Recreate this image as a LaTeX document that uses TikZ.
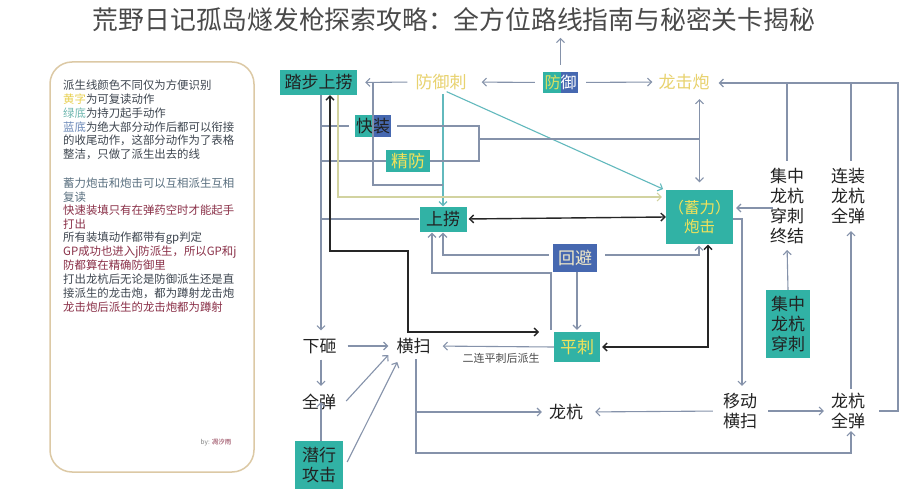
\documentclass[tikz,border=0pt]{standalone}
\usepackage{fontspec}
\setmainfont{Noto Sans CJK SC}
\usetikzlibrary{arrows.meta}
\definecolor{tealc}{HTML}{31B2A5}
\definecolor{bluec}{HTML}{4668B0}
\definecolor{ytxt}{HTML}{E8D26E}
\definecolor{ybox}{HTML}{F2E25A}
\definecolor{cream}{HTML}{F2EAC8}
\definecolor{txtc}{HTML}{222222}
\definecolor{gline}{HTML}{8592AA}
\definecolor{tline}{HTML}{62B9BD}
\definecolor{yline}{HTML}{D2D3A0}
\definecolor{titlec}{HTML}{4A4A4A}
\definecolor{boxc}{HTML}{DCC9A5}
\definecolor{notec}{HTML}{3E4650}
\definecolor{noteteal}{HTML}{5A7080}
\definecolor{maroon}{HTML}{8A3048}
\definecolor{nyel}{HTML}{E8D050}
\definecolor{ngrn}{HTML}{70B8B0}
\definecolor{nblu}{HTML}{6A88B8}
\definecolor{fyl}{HTML}{DCE060}
\begin{document}
\begin{tikzpicture}[x=1pt,y=-1pt,
  txt/.style={inner sep=0pt, align=center, font=\fontsize{17}{20}\selectfont, text=txtc},
  yt/.style={txt, text=ytxt},
  box/.style={txt, fill=tealc},
  sbox/.style={txt, fill=tealc, path picture={
      \fill[tealc] (path picture bounding box.south west) rectangle (path picture bounding box.north);
      \fill[bluec] (path picture bounding box.south) rectangle (path picture bounding box.north east);}},
  note/.style={anchor=west, inner sep=0pt, font=\fontsize{11.4}{13.75}\selectfont, text=notec},
  gl/.style={draw=gline, line width=1.1pt},
  bl/.style={draw=black!85, line width=1.4pt},
  tl/.style={draw=tline, line width=1.1pt},
  yl/.style={draw=yline, line width=1.1pt},
  arr/.style={-{Straight Barb[length=4pt,width=8pt]}},
  arrs/.style={{Straight Barb[length=4pt,width=8pt]}-{Straight Barb[length=4pt,width=8pt]}}
]
\useasboundingbox (0,0) rectangle (908,500);
\fill[white] (0,0) rectangle (908,500);

% left note box
\draw[draw=boxc, line width=1.5pt, rounded corners=22pt] (50,62) rectangle (254,472);
\node[note] (l1) at (63,85) {派生线颜色不同仅为方便识别};
\node[note] (l2) at (63,98.9) {\textcolor{nyel}{黄字}为可复读动作};
\node[note] (l3) at (63,112.8) {\textcolor{ngrn}{绿底}为持刀起手动作};
\node[note] (l4) at (63,126.7) {\textcolor{nblu}{蓝底}为绝大部分动作后都可以衔接};
\node[note] (l5) at (63,140.6) {的收尾动作，这部分动作为了表格};
\node[note] (l6) at (63,154.5) {整洁，只做了派生出去的线};
\node[note, text=noteteal] (l7) at (63,183) {蓄力炮击和炮击可以互相派生互相};
\node[note, text=noteteal] (l8) at (63,196.75) {复读};
\node[note, text=maroon] (l9) at (63,210.5) {快速装填只有在弹药空时才能起手};
\node[note, text=maroon] (l10) at (63,224.25) {打出};
\node[note] (l11) at (63,238) {所有装填动作都带有gp判定};
\node[note, text=maroon] (l12) at (63,251.75) {GP成功也进入j防派生，所以GP和j};
\node[note, text=maroon] (l13) at (63,265.5) {防都算在精确防御里};
\node[note] (l14) at (63,279.25) {打出龙杭后无论是防御派生还是直};
\node[note] (l15) at (63,293) {接派生的龙击炮，都为蹲射龙击炮};
\node[note, text=maroon] (l16) at (63,306.75) {龙击炮后派生的龙击炮都为蹲射};
\node[inner sep=0pt, font=\fontsize{6.5}{7}\selectfont, text=gray] (by) at (216,443) {by: \textcolor{maroon}{凋汐雨}};

% helper coordinates
\coordinate (tr) at (321,0);
\coordinate (j1) at (373,185);
\coordinate (bx) at (330,251);
\coordinate (by2) at (408,251);
\coordinate (yx) at (338,197);
\coordinate (m) at (479,139);
\coordinate (h1) at (443,255);
\coordinate (h2) at (699,255);
\coordinate (p1) at (551,273);
\coordinate (p2) at (432,273);
\coordinate (v1) at (416,412);
\coordinate (v2) at (416,453);
\coordinate (rx) at (851,0);
\coordinate (c1) at (742,219);
\coordinate (tr1) at (898,83);
\coordinate (bp) at (539,332);
\coordinate (k1) at (708,347);

% nodes
\node[box, minimum width=77pt, minimum height=25pt] (tbsl) at (318.5,82.5) {踏步上捞};
\node[yt] (fyc) at (441,82) {防御刺};
\node[sbox, minimum width=35pt, minimum height=21pt, font=\fontsize{16}{18}\selectfont] (fy) at (560.5,82.5) {\textcolor{fyl}{防}\textcolor{white}{御}};
\node[yt] (ljp) at (684,82) {龙击炮};
\node[sbox, minimum width=36pt, minimum height=22pt] (kz) at (373,126) {快装};
\node[box, text=ybox, minimum width=44pt, minimum height=22pt] (jf) at (408,161) {精防};
\node[box, minimum width=47pt, minimum height=25pt] (sl) at (443,219) {上捞};
\node[box, text=ybox, minimum width=67pt, minimum height=53pt, font=\fontsize{15.5}{19}\selectfont] (pj) at (699.5,217) {（蓄力）\\炮击};
\node[box, fill=bluec, text=cream, minimum width=44pt, minimum height=28pt] (hb) at (575,258) {回避};
\node[box, text=ybox, minimum width=46pt, minimum height=30pt] (pc) at (577,347) {平刺};
\node[txt] (xz) at (319.5,346) {下砸};
\node[txt] (hs) at (413.5,346) {横扫};
\node[inner sep=0pt, font=\fontsize{11}{12}\selectfont, text=titlec] (lab) at (501,358) {二连平刺后派生};
\node[txt] (qd) at (319,402) {全弹};
\node[box, minimum width=48pt, minimum height=48pt] (qxgj) at (319,465) {潜行\\攻击};
\node[txt] (lh) at (566,412) {龙杭};
\node[txt] (ydhs) at (740,411) {移动\\横扫};
\node[txt] (lhqd) at (848,411) {龙杭\\全弹};
\node[txt] (jz4) at (787,206) {集中\\龙杭\\穿刺\\终结};
\node[txt] (lz3) at (848,196) {连装\\龙杭\\全弹};
\node[box, minimum width=44pt, minimum height=68pt] (jz3) at (788,324) {集中\\龙杭\\穿刺};

% top row
\draw[gl,arr,shorten <=8pt,shorten >=15pt] (fy.west) -- (fyc.east);
\draw[gl,arr,shorten <=8pt,shorten >=6pt] (fy.east) -- (ljp.west);
\draw[gl,arr,shorten <=7pt] (fy.north) -- ++(0,-34);
\draw[gl,arr,shorten <=8pt,shorten >=8pt] (fyc.west) -- (tbsl.east);

% title (drawn over the arrow, as in the reference)
\node[inner sep=0pt, font=\fontsize{25.8}{26}\selectfont, text=titlec] (title) at (454,20) {荒野日记孤岛燧发枪探索攻略：全方位路线指南与秘密关卡揭秘};

% teal lines from 防御刺
\draw[tl,arr,shorten <=4pt] (sl.north |- fyc.south) -- (sl.north);
\draw[tl,arr,shorten <=4pt,shorten >=3pt] (sl.north |- fyc.south) -- (pj.north west);
\draw[gl] (sl.north |- j1) -- (j1) -- (j1 |- fyc.west);

% trunk to 下砸
\draw[gl,arr,shorten >=8pt] (tbsl.south -| tr) -- (xz.north -| tr);
\draw[gl,shorten <=6pt] (kz.west) -- (kz.west -| tr);
\draw[gl] (jf.west) -- (jf.west -| tr);
\draw[gl] (sl.west) -- (sl.west -| tr);

% black double line 踏步上捞 <-> 平刺
\draw[bl,arrs] (tbsl.south -| bx) -- (bx) -- (by2) -- (by2 |- bp) -- (bp);

% yellow line
\draw[yl,arr,shorten >=4pt] (tbsl.south -| yx) -- (yx) -- (yx -| pj.west);

% 快装 / 精防 merge
\draw[gl,shorten <=6pt] (kz.east) -- (kz.east -| m) -- (jf.east -| m) -- (jf.east);
\draw[gl] (m) -- (m -| pj.north);
\draw[gl,arrs,shorten <=9pt,shorten >=8pt] (ljp.south -| pj.north) -- (pj.north);

% 上捞 <-> 炮击
\draw[bl,arrs,shorten <=2pt] (sl.east) -- (pj.west);

% 回避
\draw[gl,arr,shorten <=4pt,shorten >=1pt] (hb.west |- h1) -- (h1) -- (h1 |- sl.south);
\draw[gl,arr,shorten <=8pt,shorten >=2pt] (hb.east |- h2) -- (h2) -- (h2 |- pj.south);
\draw[gl,arr,shorten >=2pt] (hb.south -| pc.north) -- (pc.north);

% 平刺
\draw[gl,arr,shorten <=2pt,shorten >=1pt] (p1 |- pc.north) -- (p1) -- (p2) -- (p2 |- sl.south);
\draw[gl,arr,shorten >=12pt] (pc.west) -- (hs.east);
\draw[bl,arrs,shorten <=2pt,shorten >=1pt] (pc.east) -- (k1) -- (k1 |- pj.south);

% left cluster
\draw[gl,arr,shorten <=11pt,shorten >=8pt] (xz.east) -- (hs.west);
\draw[gl,arr,shorten <=6pt,shorten >=8pt] (xz.south -| tr) -- (qd.north -| tr);
\draw[gl,arr] ([shift={(10,-1)}]qd.east) -- ([shift={(-8,1)}]hs.south west);
\draw[gl,arr] (qxgj.north -| tr) -- ([yshift=8pt]qd.south -| tr);
\draw[gl,arr] ([shift={(4,-3)}]qxgj.east) -- ([shift={(1,8)}]hs.south west);

% 横扫 outputs
\draw[gl,arr,shorten <=5pt,shorten >=7pt] (hs.south -| v1) -- (v1) -- (v1 -| lh.west);
\draw[gl,arr,shorten >=2pt] (v1) -- (v2) -- (v2 -| rx) -- (rx |- lhqd.south);

% 移动横扫
\draw[gl,arr,shorten <=10pt,shorten >=12pt] (ydhs.west) -- (lh.east);
\draw[gl,arr,shorten <=11pt,shorten >=7pt] (ydhs.east) -- (lhqd.west);
\draw[gl,arr,shorten >=7pt] (pj.east |- c1) -- (c1) -- (c1 |- ydhs.north);

% right side to 龙击炮
\draw[gl,arr,shorten <=14pt,shorten >=9pt] (lhqd.east) -- (lhqd.east -| tr1) -- (tr1) -- (tr1 -| ljp.east);
\draw[gl,shorten <=7pt] (jz4.north) -- (jz4.north |- tr1);
\draw[gl,shorten <=7pt] (rx |- lz3.north) -- (rx |- tr1);
\draw[gl,arr,shorten <=-3pt,shorten >=3pt] ([yshift=-2pt]jz4.west) -- ([yshift=-2pt]jz4.west -| pj.east);
\draw[gl,arr,shorten >=6pt] (jz3.north) -- (jz4.south);
\draw[gl,arr,shorten <=4pt,shorten >=7pt] (rx |- lhqd.north) -- (rx |- lz3.south);
\end{tikzpicture}
\end{document}
